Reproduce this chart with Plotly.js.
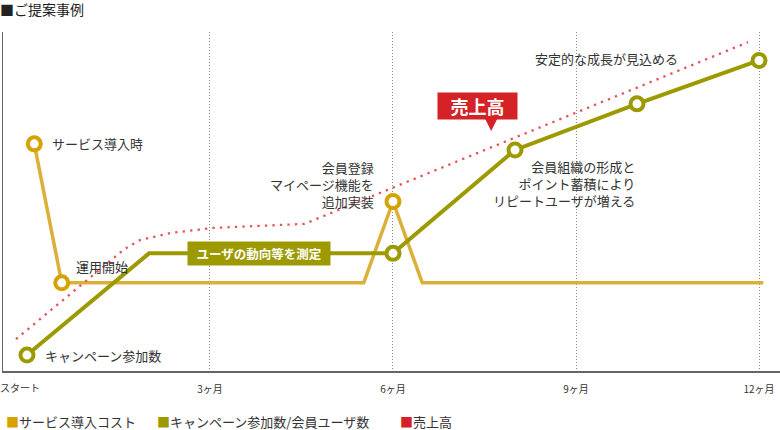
<!DOCTYPE html>
<html>
<head>
<meta charset="utf-8">
<script src="https://cdn.plot.ly/plotly-3.0.1.min.js"></script>
<style>
  body { margin: 0; background: #fff; }
  #chart { width: 780px; height: 430px; }
</style>
</head>
<body>
<div id="chart"></div>
<script>
var seriesNames = ['サービス導入コスト', 'キャンペーン参加数/会員ユーザ数', '売上高'];
var seriesColors = ['#D6A200', '#9C9A00', '#D42226'];

// x = months from start, y = relative level (0-100)
var costX = [0.12, 0.57, 5.52, 6, 6.48, 12.07];
var costY = [67, 26, 26, 50, 26, 26];
var costKey = [true, true, false, true, false, false];

var userX = [0, 2, 6, 8, 10, 12];
var userY = [4.7, 34.7, 34.7, 65.2, 78.8, 91.6];
var userKey = [true, false, true, true, true, true];

var salesX = [-0.18, 1.6, 1.85, 2.35, 3.05, 4.55, 11.82];
var salesY = [9.4, 36, 38.6, 40.7, 42.2, 43.4, 97];

var tickVals = [3, 6, 9, 12];
var tickText = ['3ヶ月', '6ヶ月', '9ヶ月', '12ヶ月'];
var startLabel = 'スタート';

function pick(arr, keys) {
  return arr.filter(function (v, i) { return keys[i]; });
}

// plot area: 3..780 px wide, 32..371 px high
function paperX(px) { return (px - 3) / 777; }
function paperY(py) { return (371 - py) / 339; }

var data = [
  {
    x: costX, y: costY, mode: 'lines', name: seriesNames[0],
    line: {color: '#DCAF38', width: 3.5}, hoverinfo: 'skip'
  },
  {
    x: pick(costX, costKey), y: pick(costY, costKey), mode: 'markers',
    marker: {symbol: 'circle', size: 13, color: '#fff', line: {color: seriesColors[0], width: 4}},
    hoverinfo: 'skip'
  },
  {
    x: salesX, y: salesY, mode: 'lines', name: seriesNames[2],
    line: {color: '#E8505A', width: 2.3, dash: '2.3px,5.2px'}, hoverinfo: 'skip'
  },
  {
    x: userX, y: userY, mode: 'lines', name: seriesNames[1],
    line: {color: seriesColors[1], width: 4}, hoverinfo: 'skip'
  },
  {
    x: pick(userX, userKey), y: pick(userY, userKey), mode: 'markers',
    marker: {symbol: 'circle', size: 13, color: '#fff', line: {color: seriesColors[1], width: 4}},
    hoverinfo: 'skip'
  }
];

var annotations = [
  // start tick label
  {xref: 'x', yref: 'paper', x: 0, y: 0, text: startLabel, showarrow: false,
   xanchor: 'center', yanchor: 'middle', xshift: -7, yshift: -16, font: {size: 10}},
  // point notes
  {x: costX[0], y: costY[0], text: 'サービス導入時', showarrow: false,
   xanchor: 'left', yanchor: 'middle', xshift: 16},
  {x: costX[1], y: costY[1], text: '運用開始', showarrow: false,
   xanchor: 'left', yanchor: 'middle', xshift: 12, yshift: 16},
  {x: userX[0], y: userY[0], text: 'キャンペーン参加数', showarrow: false,
   xanchor: 'left', yanchor: 'middle', xshift: 16},
  {x: costX[3], y: costY[3], text: '会員登録<br>マイページ機能を<br>追加実装', showarrow: false,
   xanchor: 'right', yanchor: 'middle', align: 'right', xshift: -17, yshift: 17},
  {x: userX[4], y: 55.2, text: '会員組織の形成と<br>ポイント蓄積により<br>リピートユーザが増える', showarrow: false,
   xanchor: 'right', yanchor: 'middle', align: 'right'},
  {x: 9.5, y: 92.3, text: '安定的な成長が見込める', showarrow: false,
   xanchor: 'center', yanchor: 'middle'},
  // boxed labels
  {x: 3.8, y: userY[1], text: '<b>ユーザの動向等を測定</b>', showarrow: false,
   bgcolor: seriesColors[1], borderpad: 5, width: 132, height: 13,
   font: {color: '#fff', size: 12.5}},
  {x: 7.39, y: 78.2, text: '<b>売上高</b>', showarrow: false,
   bgcolor: seriesColors[2], borderpad: 3, width: 73, height: 20,
   font: {color: '#fff', size: 18}}
];

// legend drawn as text
var legendLeft = [4, 155, 398];
seriesNames.forEach(function (name, i) {
  annotations.push({
    xref: 'paper', yref: 'paper', x: paperX(legendLeft[i]), y: paperY(421),
    xanchor: 'left', yanchor: 'middle', showarrow: false,
    text: '<span style="color:' + seriesColors[i] + '">■</span>' + name
  });
});

var layout = {
  width: 780,
  height: 430,
  margin: {l: 3, r: 0, t: 32, b: 59},
  paper_bgcolor: '#fff',
  plot_bgcolor: '#fff',
  showlegend: false,
  font: {family: '"Noto Sans CJK JP", sans-serif', size: 13, color: '#333'},
  title: {
    text: '■ご提案事例', xref: 'container', yref: 'container',
    x: 0, xanchor: 'left', y: 1 - 10 / 430, yanchor: 'middle',
    pad: {l: 0, t: 0, b: 0, r: 0},
    font: {size: 14, color: '#222'}
  },
  xaxis: {
    range: [-0.393, 12.344],
    tickmode: 'array', tickvals: tickVals, ticktext: tickText,
    tickfont: {size: 10, color: '#333'},
    ticks: '', ticklabelstandoff: 8,
    showgrid: true, gridcolor: '#888', gridwidth: 1, griddash: '1px,2px',
    showline: true, linecolor: '#666', linewidth: 1.5,
    zeroline: false, fixedrange: true
  },
  yaxis: {
    range: [0, 100],
    showgrid: false, showticklabels: false, ticks: '',
    showline: true, linecolor: '#666', linewidth: 1.5,
    zeroline: false, fixedrange: true
  },
  shapes: [
    // pointer under the 売上高 label
    {type: 'path', xref: 'x', yref: 'y', xsizemode: 'pixel', ysizemode: 'pixel',
     xanchor: 7.61, yanchor: 74.3, path: 'M-6,0 L6,0 L0,-12 Z',
     fillcolor: seriesColors[2], line: {width: 0}, layer: 'above'}
  ],
  annotations: annotations
};

Plotly.newPlot('chart', data, layout, {displayModeBar: false, staticPlot: true});
</script>
</body>
</html>
